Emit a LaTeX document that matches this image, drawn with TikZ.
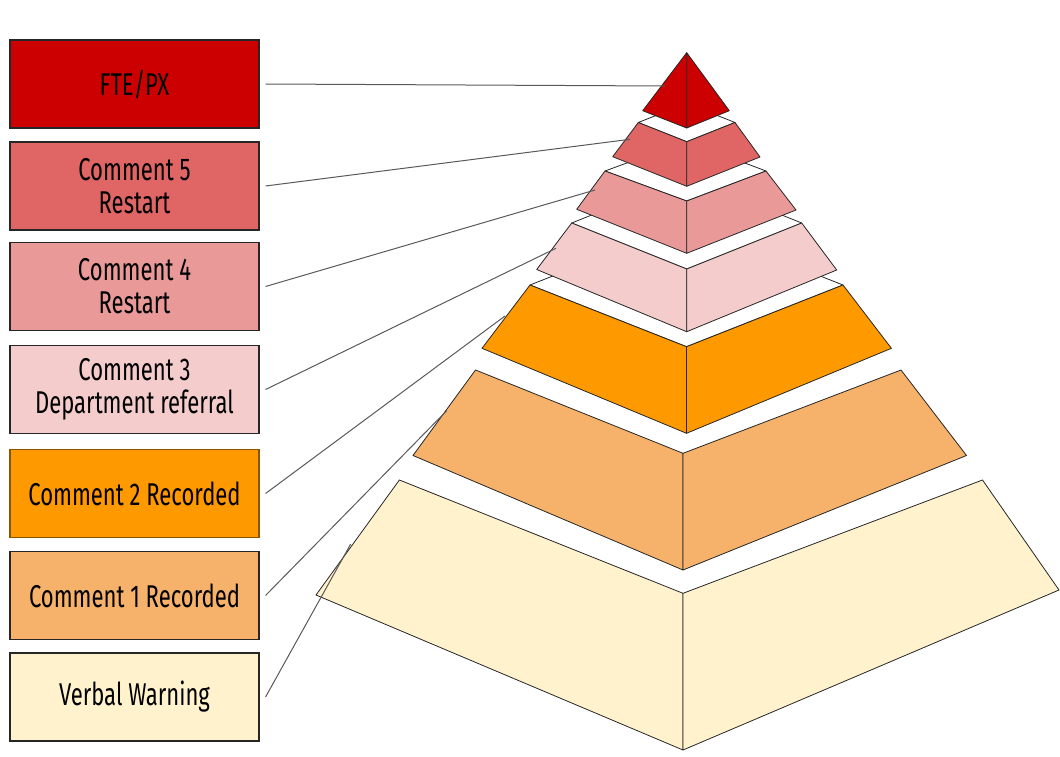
\documentclass[tikz,border=0pt]{standalone}
\usepackage{fontspec}
\setmainfont{Fira Sans}[FakeStretch=0.70]
\usetikzlibrary{positioning}
\definecolor{lvlfte}{HTML}{CC0000}
\definecolor{lvlfive}{HTML}{E06666}
\definecolor{lvlfour}{HTML}{EA9999}
\definecolor{lvlthree}{HTML}{F4CCCC}
\definecolor{lvltwo}{HTML}{FF9900}
\definecolor{lvlone}{HTML}{F6B26B}
\definecolor{lvlverbal}{HTML}{FFF2CC}

\begin{document}
\begin{tikzpicture}[x=1pt,y=-1pt,
  box/.style={draw=black!85,line width=1.1pt,minimum width=249pt,minimum height=88pt,inner sep=0pt,align=center,font=\fontsize{31.5}{33}\selectfont},
  face/.style={draw=black!85,line width=0.8pt,line join=round},
  lead/.style={draw=black!65,line width=1pt}]
  \useasboundingbox (0,0) rectangle (1060,757);
  \filldraw[face,fill=lvlverbal] (399.4,480) -- (683,593.3) -- (683,750) -- (316,595) -- cycle;
  \filldraw[face,fill=lvlverbal] (982.5,480) -- (683,593.3) -- (683,750) -- (1059,590) -- cycle;
  \filldraw[face,fill=lvlone] (475.5,370) -- (683,453.3) -- (683,570) -- (413,455.5) -- cycle;
  \filldraw[face,fill=lvlone] (901,370) -- (683,453.3) -- (683,570) -- (966.5,455.5) -- cycle;
  \filldraw[face,fill=white] (530,285) -- (686.5,346.7) -- (843,285) -- (686.5,223.3) -- cycle;
  \filldraw[face,fill=lvltwo] (530,285) -- (686.5,346.7) -- (686.5,433.3) -- (482,348.3) -- cycle;
  \filldraw[face,fill=lvltwo] (843,285) -- (686.5,346.7) -- (686.5,433.3) -- (891.4,348.3) -- cycle;
  \filldraw[face,fill=white] (571.7,223) -- (686.7,269) -- (801.7,223) -- (686.7,177) -- cycle;
  \filldraw[face,fill=lvlthree] (571.7,223) -- (686.7,269) -- (686.7,331.7) -- (536.7,269.5) -- cycle;
  \filldraw[face,fill=lvlthree] (801.7,223) -- (686.7,269) -- (686.7,331.7) -- (836.7,270) -- cycle;
  \filldraw[face,fill=white] (605,171) -- (686.7,201) -- (766,171) -- (686.7,141) -- cycle;
  \filldraw[face,fill=lvlfour] (605,171) -- (686.7,201) -- (686.7,253.3) -- (576.7,209.3) -- cycle;
  \filldraw[face,fill=lvlfour] (766,171) -- (686.7,201) -- (686.7,253.3) -- (796,210) -- cycle;
  \filldraw[face,fill=white] (638.3,122.5) -- (686.7,141.7) -- (735,122.5) -- (686.7,103.3) -- cycle;
  \filldraw[face,fill=lvlfive] (638.3,122.5) -- (686.7,141.7) -- (686.7,186.3) -- (612.7,156.7) -- cycle;
  \filldraw[face,fill=lvlfive] (735,122.5) -- (686.7,141.7) -- (686.7,186.3) -- (760,157) -- cycle;
  \filldraw[face,fill=lvlfte] (686.7,52.7) -- (686.7,128) -- (642.7,110.7) -- cycle;
  \filldraw[face,fill=lvlfte] (686.7,52.7) -- (686.7,128) -- (729.3,110.7) -- cycle;

  \node[box,fill=lvlfte] (fte) at (134.5,84) {FTE/PX};
  \node[box,fill=lvlfive] (cfive) at (134.5,186) {Comment 5\\Restart};
  \node[box,fill=lvlfour] (cfour) at (134.5,286.5) {Comment 4\\Restart};
  \node[box,fill=lvlthree] (cthree) at (134.5,389.5) {Comment 3\\Department referral};
  \node[box,fill=lvltwo,draw=black!45!lvltwo] (ctwo) at (134.5,493.5) {Comment 2 Recorded};
  \node[box,fill=lvlone] (cone) at (134.5,595.5) {Comment 1 Recorded};
  \node[box,fill=lvlverbal] (verbal) at (134.5,697) {Verbal Warning};

  \coordinate (tipfte) at (665,86);
  \coordinate (tipfive) at (630,139.3);
  \coordinate (tipfour) at (595,190);
  \coordinate (tipthree) at (556,248.3);
  \coordinate (tiptwo) at (505,316);
  \coordinate (tipone) at (446.7,410.7);
  \coordinate (tipverbal) at (350.7,544);
  \draw[lead] ([xshift=6pt]fte.east) -- (tipfte);
  \draw[lead] ([xshift=6pt]cfive.east) -- (tipfive);
  \draw[lead] ([xshift=6pt]cfour.east) -- (tipfour);
  \draw[lead] ([xshift=6pt]cthree.east) -- (tipthree);
  \draw[lead] ([xshift=6pt]ctwo.east) -- (tiptwo);
  \draw[lead] ([xshift=6pt]cone.east) -- (tipone);
  \draw[lead] ([xshift=6pt]verbal.east) -- (tipverbal);
\end{tikzpicture}
\end{document}
